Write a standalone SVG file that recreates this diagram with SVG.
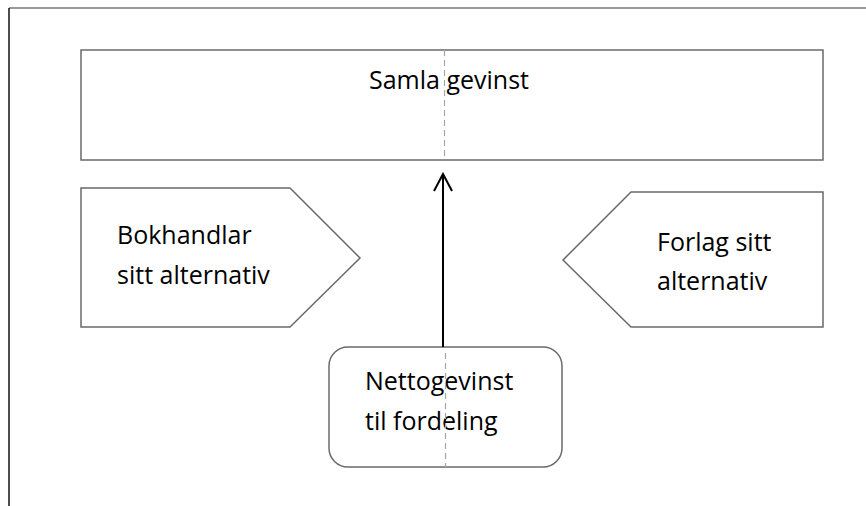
<svg xmlns="http://www.w3.org/2000/svg" width="866" height="506" viewBox="0 0 866 506">
<style>
.lbl{font-family:"Open Sans","Liberation Sans",sans-serif;font-size:25px;fill:#000}
.shape{fill:#fff;stroke:#6a6a6a;stroke-width:1.5}
.guide{stroke:#a6a6a6;stroke-width:1.2;stroke-dasharray:6,4;fill:none}
</style>
<defs>
<marker id="arr" viewBox="0 0 20 20" refX="18" refY="10" markerWidth="20" markerHeight="20" markerUnits="userSpaceOnUse" orient="auto">
<path d="M1,1 L18,10 L1,19" fill="none" stroke="#000" stroke-width="2"/>
</marker>
</defs>
<rect width="866" height="506" fill="#fff"/>
<g id="frame">
<line x1="9" y1="8" x2="866" y2="8" stroke="#777" stroke-width="1.5"/>
<line x1="9" y1="8" x2="9" y2="506" stroke="#111" stroke-width="1.5"/>
</g>
<g id="samla">
<rect class="shape" x="81" y="50" width="742" height="110"/>
<text class="lbl" x="369" y="89">Samla gevinst</text>
</g>
<g id="bokhandlar">
<polygon class="shape" points="81,188 290,188 360,258 290,327 81,327"/>
<text class="lbl" x="117" y="244">Bokhandlar</text>
<text class="lbl" x="117" y="284">sitt alternativ</text>
</g>
<g id="forlag">
<polygon class="shape" points="823,192 631,192 563,260 631,327 823,327"/>
<text class="lbl" x="657" y="251">Forlag sitt</text>
<text class="lbl" x="657" y="290">alternativ</text>
</g>
<g id="netto">
<rect class="shape" x="329" y="347" width="233" height="120" rx="19" ry="19"/>
<text class="lbl" x="365" y="390">Nettogevinst</text>
<text class="lbl" x="365" y="430">til fordeling</text>
</g>
<g id="connectors">
<line x1="443" y1="347" x2="443" y2="174" stroke="#000" stroke-width="2" marker-end="url(#arr)"/>
<line class="guide" x1="444.5" y1="50" x2="444.5" y2="160"/>
<line class="guide" x1="445.5" y1="353" x2="445.5" y2="467"/>
</g>
</svg>
